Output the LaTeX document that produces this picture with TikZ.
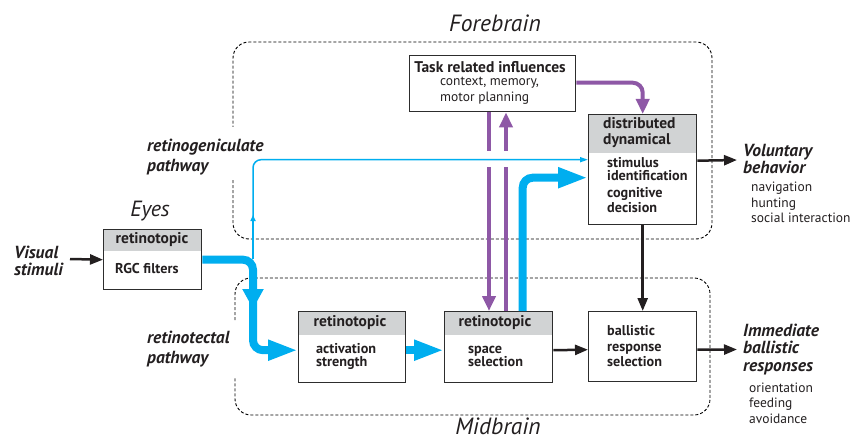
\documentclass[tikz,border=0pt]{standalone}
\usepackage{fontspec}
\setmainfont{PT Sans}
\usetikzlibrary{arrows.meta}
\definecolor{cy}{RGB}{0,174,239}
\definecolor{pu}{RGB}{142,88,166}
\definecolor{hdc}{RGB}{209,211,212}
\definecolor{bxc}{RGB}{45,45,45}
\definecolor{txc}{RGB}{35,31,32}
\begin{document}
\begin{tikzpicture}[x=1pt,y=-1pt,
  boxn/.style={draw=bxc, line width=1.4pt, anchor=north west, inner sep=0pt},
  htxt/.style={font=\fontsize{15.5}{16}\selectfont\bfseries, inner sep=0pt, text=txc},
  btxt/.style={font=\fontsize{14.2}{13}\selectfont\bfseries, align=left, anchor=west, inner sep=0pt, text=txc},
  lab/.style={font=\fontsize{17.5}{20.5}\selectfont\bfseries\itshape, align=left, anchor=west, inner sep=0pt, text=txc},
  olab/.style={font=\fontsize{17.5}{17.2}\selectfont\bfseries\itshape, align=left, anchor=west, inner sep=0pt, text=txc},
  subt/.style={font=\fontsize{13.5}{15.7}\selectfont, align=left, anchor=west, inner sep=0pt, text=txc},
  bigt/.style={font=\fontsize{23.5}{26}\selectfont\itshape, inner sep=0pt, text=txc},
  region/.style={dash pattern=on 3pt off 2pt, line width=0.9pt, rounded corners=16, draw=black},
  cthick/.style={cy, line width=8pt},
  cthin/.style={cy, line width=1.5pt},
  purp/.style={pu, line width=4pt},
  blk/.style={txc, line width=2.5pt, -{Triangle[length=13pt,width=10pt]}},
  bighead/.style={-{Triangle[length=30pt,width=19pt]}},
  puhead/.style={-{Triangle[length=15pt,width=13pt]}}
]
\useasboundingbox (0,0) rectangle (862,441);

% regions
\draw[region] (233,180) |- (712,239) |- (233,42) -- (233,127);
\draw[region] (235,320) |- (710,278) |- (235,415) -- (235,377);
\node[bigt] (fb) at (495,23) {Forebrain};
\node[bigt] (mb) at (498,426.5) {Midbrain};

% header fills
\fill[hdc] (103,229) rectangle (201,251);
\fill[hdc] (298,311) rectangle (405,335);
\fill[hdc] (444,311) rectangle (552,335);
\fill[hdc] (588,114) rectangle (696,153);

% boxes
\node[boxn, minimum width=98pt, minimum height=60pt] (eye) at (103,229) {};
\node[boxn, minimum width=107pt, minimum height=71pt] (act) at (298,311) {};
\node[boxn, minimum width=108pt, minimum height=71pt] (spc) at (444,311) {};
\node[boxn, minimum width=108pt, minimum height=70pt] (bal) at (588,311) {};
\node[boxn, minimum width=108pt, minimum height=110pt] (dist) at (588,114) {};
\node[boxn, minimum width=166pt, minimum height=56pt] (task) at (409,55) {};

% box texts
\node[htxt] (eyeh) at (152,240) {retinotopic};
\node[btxt] (eyeb) at (115,269) {RGC filters};
\node[htxt] (acth) at (350,323) {retinotopic};
\node[btxt] (actb) at (316,356.5) {activation\\strength};
\node[htxt] (spch) at (495,323) {retinotopic};
\node[btxt] (spcb) at (468,356.5) {space\\selection};
\node[btxt, font=\fontsize{14.2}{15.5}\selectfont\bfseries] (balb) at (607,346.5) {ballistic\\response\\selection};
\node[btxt, font=\fontsize{15.5}{16}\selectfont\bfseries] (disth) at (603,133) {distributed\\dynamical};
\node[btxt, font=\fontsize{14.2}{12.5}\selectfont\bfseries] (distb1) at (607,169) {stimulus\\identification};
\node[btxt, font=\fontsize{14.2}{12.5}\selectfont\bfseries] (distb2) at (607,200) {cognitive\\decision};
\node[htxt] (taskh) at (490,67) {Task related influences};
\node[subt, font=\fontsize{13.5}{16}\selectfont] (taskb) at (440,91) {context, memory,\\motor planning};

% outside labels
\node[olab] (vis) at (14,261) {Visual\\stimuli};
\node[bigt, font=\fontsize{22}{24}\selectfont\itshape] (eyes) at (150,211) {Eyes};
\node[lab] (rgp) at (147,157) {retinogeniculate\\pathway};
\node[lab] (rtp) at (147,349) {retinotectal\\pathway};
\node[olab] (vol) at (743,159) {Voluntary\\behavior};
\node[subt] (vols) at (751,202.5) {navigation\\hunting\\social interaction};
\node[olab] (imm) at (743,349.5) {Immediate\\ballistic\\responses};
\node[subt] (imms) at (749,403) {orientation\\feeding\\avoidance};

% coordinates
\coordinate (vs) at (70,259);
\coordinate (split) at (253,259);
\coordinate (ex1) at (737,160);
\coordinate (ex2) at (737,349.5);

% cyan thin (retinogeniculate)
\draw[cthin, -{Triangle[length=6pt,width=5pt]}] (split) -- (253,215);
\draw[cthin, rounded corners=8, -{Triangle[length=8pt,width=5pt]}] (253,219) |- ([yshift=10pt]dist.west);

% purple
\draw[purp] (task.south -| 489,0) -- (489,151);
\draw[purp, puhead] (489,167) -- (spc.north -| 489,0);
\draw[purp] (spc.north -| 506,0) -- (506,167);
\draw[purp, puhead] (506,151) -- (task.south -| 506,0);
\draw[purp, rounded corners=10, puhead] ([yshift=1pt]task.east) -| (dist.north);

% cyan thick
\draw[cthick, rounded corners=10, -{Triangle[length=20pt,width=20pt]}] (eye.east) -| (253,309);
\draw[cthick, rounded corners=10, bighead] (253,300) |- ([yshift=-3pt]act.west);
\draw[cthick, bighead] ([yshift=-3pt]act.east) -- ([yshift=-3pt]spc.west);
\draw[cthick, rounded corners=10, bighead] ([xshift=24pt]spc.north) |- ([yshift=-8pt]dist.west);

% black
\draw[blk] (vs) -- (eye.west);
\draw[blk] ([yshift=-3pt]spc.east) -- ([yshift=-3pt]bal.west);
\draw[blk] (dist.south) -- (bal.north);
\draw[blk] ([yshift=-3pt]bal.east) -- (ex2);
\draw[blk] ([yshift=9pt]dist.east) -- (ex1);
\end{tikzpicture}
\end{document}
